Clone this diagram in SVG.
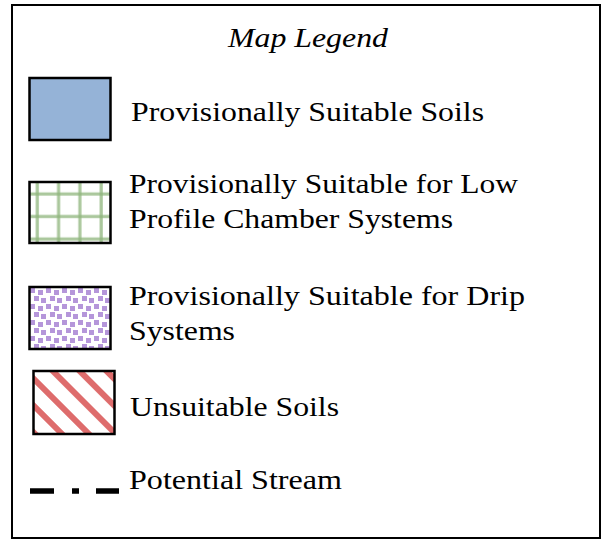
<svg xmlns="http://www.w3.org/2000/svg" width="608" height="539" viewBox="0 0 608 539">
  <style>
    .label { font-family: "Liberation Serif", "Times New Roman", serif; font-size: 28px; fill: #000; }
    .title { font-style: italic; }
    .swatch { stroke: #000; stroke-width: 2.5; }
  </style>
  <defs>
    <!-- green grid hatch -->
    <pattern id="grid" patternUnits="userSpaceOnUse" x="26.5" y="183" width="21.3" height="22.5">
      <rect width="21.3" height="22.5" fill="#fff"/>
      <line x1="10.8" y1="0" x2="10.8" y2="22.5" stroke="#8DB47A" stroke-opacity="0.75" stroke-width="3.2"/>
      <line x1="0" y1="11" x2="21.3" y2="11" stroke="#8DB47A" stroke-opacity="0.75" stroke-width="3.2"/>
    </pattern>
    <!-- purple speckle -->
    <pattern id="dots" patternUnits="userSpaceOnUse" x="29" y="287" width="16" height="16">
      <rect width="16" height="16" fill="#fff"/>
      <rect x="1" y="1" width="5" height="5" fill="#B596DA"/>
      <rect x="9" y="3" width="5" height="5" fill="#B596DA"/>
      <rect x="5" y="9" width="5" height="5" fill="#B596DA"/>
      <rect x="12" y="11" width="4" height="5" fill="#B596DA"/>
      <rect x="0" y="11" width="1" height="5" fill="#B596DA"/>
    </pattern>
    <!-- red diagonal stripes -->
    <pattern id="stripes" patternUnits="userSpaceOnUse" width="19" height="19" patternTransform="rotate(-45)">
      <rect width="19" height="19" fill="#fff"/>
      <rect x="0" y="0" width="6" height="19" fill="#DE6C6C"/>
    </pattern>
  </defs>

  <!-- legend frame -->
  <rect id="frame" x="12" y="5" width="588" height="533" fill="#fff" stroke="#000" stroke-width="2"/>

  <text id="title" class="label title" x="228" y="47" textLength="160" lengthAdjust="spacingAndGlyphs">Map Legend</text>

  <g id="suitable">
    <rect class="swatch" x="29.5" y="78" width="81" height="62" fill="#95B3D7"/>
    <text class="label" x="131" y="121" textLength="353" lengthAdjust="spacingAndGlyphs">Provisionally Suitable Soils</text>
  </g>

  <g id="low-profile">
    <rect class="swatch" x="29.5" y="182" width="81" height="61" fill="url(#grid)"/>
    <text class="label" x="129" y="193" textLength="389" lengthAdjust="spacingAndGlyphs">Provisionally Suitable for Low</text>
    <text class="label" x="129" y="228" textLength="324" lengthAdjust="spacingAndGlyphs">Profile Chamber Systems</text>
  </g>

  <g id="drip">
    <rect class="swatch" x="29.5" y="287" width="81" height="62" fill="url(#dots)"/>
    <text class="label" x="129" y="305" textLength="396" lengthAdjust="spacingAndGlyphs">Provisionally Suitable for Drip</text>
    <text class="label" x="129" y="340" textLength="106" lengthAdjust="spacingAndGlyphs">Systems</text>
  </g>

  <g id="unsuitable">
    <rect class="swatch" x="33.5" y="371" width="81" height="63" fill="url(#stripes)"/>
    <text class="label" x="130" y="416" textLength="209" lengthAdjust="spacingAndGlyphs">Unsuitable Soils</text>
  </g>

  <g id="stream">
    <g stroke="#000" stroke-width="5.5">
      <line x1="30" y1="491" x2="54" y2="491"/>
      <line x1="72" y1="491" x2="79" y2="491"/>
      <line x1="96" y1="491" x2="119" y2="491"/>
    </g>
    <text class="label" x="129" y="489" textLength="213" lengthAdjust="spacingAndGlyphs">Potential Stream</text>
  </g>
</svg>
